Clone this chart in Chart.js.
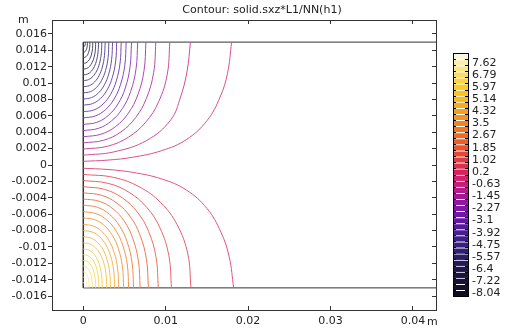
<!DOCTYPE html>
<html>
<head>
<meta charset="utf-8">
<script src="https://cdn.jsdelivr.net/npm/chart.js@4.4.0/dist/chart.umd.min.js"></script>
<style>
body { margin: 0; background: #fff; font-family: "DejaVu Sans", sans-serif; }
#wrap { position: relative; width: 505px; height: 334px; overflow: hidden; background: #fff; }
canvas { position: absolute; }
.txt { position: absolute; font-size: 11px; color: #222; white-space: nowrap; line-height: 13px; }
</style>
</head>
<body>
<div id="wrap">
  <canvas id="chart" width="505" height="334" style="left:0;top:0"></canvas>
  <canvas id="legend" width="65" height="270" style="left:440px;top:40px"></canvas>
  <div class="txt" style="left:262px;top:3px;transform:translateX(-50%)">Contour: solid.sxz*L1/NN(h1)</div>
  <div class="txt" style="left:18px;top:13px">m</div>
  <div class="txt" style="left:427px;top:315px">m</div>
</div>
<script>
// contour levels, top of colour bar first
const levels = [8.04, 7.62, 7.21, 6.79, 6.38, 5.97, 5.56, 5.14, 4.73, 4.32,
    3.91, 3.5, 3.09, 2.67, 2.26, 1.85, 1.44, 1.02, 0.61, 0.2,
    -0.21, -0.63, -1.04, -1.45, -1.86, -2.27, -2.68, -3.1, -3.51, -3.92,
    -4.33, -4.75, -5.16, -5.57, -5.98, -6.4, -6.81, -7.22, -7.63, -8.04];

const xTicks = [0, 0.01, 0.02, 0.03, 0.04];
const yTicks = [-0.016, -0.014, -0.012, -0.01, -0.008, -0.006, -0.004, -0.002, 0,
    0.002, 0.004, 0.006, 0.008, 0.01, 0.012, 0.014, 0.016];

// domain edges (mm): top edge, left edge, bottom edge
const boundary = [[60, 15], [0, 15], [0, -15], [60, -15]];

// negative contours, upper half (mm), outermost first
const topLevels = [-0.21, -0.63, -1.04, -1.45, -1.86, -2.27, -2.68, -3.1, -3.51, -3.92,
    -4.33, -4.75, -5.16, -5.57, -5.98, -6.4, -6.81, -7.22, -7.63, -8.04];
const topLines = [
    [[0, 0.45], [3, 0.6], [6, 0.95], [9.5, 1.75], [12.5, 3.1], [15, 5.4], [16.6, 8.3], [17.5, 11.2], [18, 15]],
    [[0, 1.2], [3.7, 1.6], [7.7, 3.0], [10.6, 5.5], [11.8, 8.3], [12.6, 11.5], [13, 15]],
    [[0, 1.95], [2.94, 2.29], [5.46, 3.39], [7.56, 5.21], [9.14, 7.72], [10.19, 11.09], [10.5, 15]],
    [[0, 2.7], [2.46, 3.02], [4.58, 4.05], [6.34, 5.78], [7.66, 8.14], [8.54, 11.31], [8.8, 15]],
    [[0, 3.45], [2.13, 3.75], [3.95, 4.72], [5.47, 6.34], [6.61, 8.56], [7.37, 11.54], [7.6, 15]],
    [[0, 4.2], [1.85, 4.48], [3.43, 5.39], [4.75, 6.9], [5.74, 8.97], [6.4, 11.76], [6.6, 15]],
    [[0, 4.95], [1.64, 5.21], [3.04, 6.06], [4.21, 7.46], [5.09, 9.39], [5.67, 11.99], [5.85, 15]],
    [[0, 5.75], [1.46, 5.99], [2.7, 6.77], [3.74, 8.06], [4.52, 9.84], [5.04, 12.23], [5.2, 15]],
    [[0, 6.5], [1.29, 6.72], [2.39, 7.44], [3.31, 8.63], [4.0, 10.26], [4.46, 12.45], [4.6, 15]],
    [[0, 7.3], [1.13, 7.5], [2.11, 8.15], [2.92, 9.23], [3.52, 10.7], [3.93, 12.69], [4.05, 15]],
    [[0, 8.05], [0.99, 8.23], [1.85, 8.81], [2.56, 9.79], [3.09, 11.12], [3.44, 12.92], [3.55, 15]],
    [[0, 8.8], [0.87, 8.96], [1.61, 9.48], [2.23, 10.35], [2.7, 11.54], [3.01, 13.14], [3.1, 15]],
    [[0, 9.55], [0.74, 9.69], [1.38, 10.15], [1.91, 10.91], [2.31, 11.96], [2.57, 13.37], [2.65, 15]],
    [[0, 10.3], [0.63, 10.42], [1.17, 10.82], [1.62, 11.48], [1.96, 12.38], [2.18, 13.59], [2.25, 15]],
    [[0, 11.0], [0.52, 11.1], [0.96, 11.44], [1.33, 12.0], [1.61, 12.77], [1.79, 13.8], [1.85, 15]],
    [[0, 11.7], [0.42, 11.79], [0.78, 12.06], [1.08, 12.53], [1.31, 13.16], [1.46, 14.01], [1.5, 15]],
    [[0, 12.4], [0.32, 12.47], [0.6, 12.69], [0.83, 13.05], [1.0, 13.55], [1.12, 14.22], [1.15, 15]],
    [[0, 13.1], [0.22, 13.15], [0.42, 13.31], [0.58, 13.58], [0.7, 13.94], [0.78, 14.43], [0.8, 15]],
    [[0, 13.75], [0.14, 13.78], [0.26, 13.89], [0.36, 14.06], [0.44, 14.3], [0.49, 14.63], [0.5, 15]],
    [[0, 14.4], [0.07, 14.42], [0.13, 14.47], [0.18, 14.55], [0.22, 14.67], [0.24, 14.82], [0.25, 15]]
];

// positive contours, lower half (mm), outermost first
const bottomLevels = [0.2, 0.61, 1.02, 1.44, 1.85, 2.26, 2.67, 3.09, 3.5, 3.91,
    4.32, 4.73, 5.14, 5.56, 5.97, 6.38, 6.79, 7.21, 7.62, 8.04];
const bottomLines = [
    [[0, -0.4], [3, -0.55], [6, -0.9], [9.5, -1.7], [12.5, -3.05], [15, -5.3], [16.7, -8.2], [17.7, -11.2], [18.25, -15]],
    [[0, -1.15], [3.66, -1.51], [6.8, -2.67], [9.41, -4.61], [11.37, -7.27], [12.68, -10.85], [13.07, -15]],
    [[0, -1.9], [3.0, -2.24], [5.56, -3.34], [7.7, -5.18], [9.31, -7.69], [10.38, -11.07], [10.7, -15]],
    [[0, -2.65], [2.55, -2.97], [4.73, -4.01], [6.55, -5.74], [7.92, -8.11], [8.83, -11.3], [9.1, -15]],
    [[0, -3.4], [2.21, -3.7], [4.11, -4.68], [5.69, -6.3], [6.87, -8.53], [7.66, -11.52], [7.9, -15]],
    [[0, -4.15], [1.93, -4.43], [3.59, -5.34], [4.97, -6.86], [6.0, -8.95], [6.69, -11.75], [6.9, -15]],
    [[0, -4.9], [1.71, -5.16], [3.17, -6.01], [4.39, -7.43], [5.31, -9.36], [5.92, -11.97], [6.1, -15]],
    [[0, -5.7], [1.54, -5.94], [2.86, -6.72], [3.96, -8.03], [4.79, -9.81], [5.34, -12.21], [5.5, -15]],
    [[0, -6.45], [1.37, -6.67], [2.55, -7.39], [3.53, -8.59], [4.26, -10.23], [4.75, -12.44], [4.9, -15]],
    [[0, -7.25], [1.2, -7.45], [2.24, -8.1], [3.1, -9.19], [3.74, -10.68], [4.17, -12.68], [4.3, -15]],
    [[0, -8.0], [1.06, -8.18], [1.98, -8.77], [2.74, -9.75], [3.31, -11.09], [3.69, -12.9], [3.8, -15]],
    [[0, -8.75], [0.92, -8.91], [1.72, -9.44], [2.38, -10.31], [2.87, -11.51], [3.2, -13.13], [3.3, -15]],
    [[0, -9.5], [0.8, -9.64], [1.48, -10.11], [2.05, -10.88], [2.48, -11.93], [2.76, -13.35], [2.85, -15]],
    [[0, -10.25], [0.64, -10.37], [1.2, -10.77], [1.66, -11.44], [2.0, -12.35], [2.23, -13.58], [2.3, -15]],
    [[0, -10.95], [0.53, -11.06], [0.99, -11.4], [1.37, -11.96], [1.65, -12.74], [1.84, -13.79], [1.9, -15]],
    [[0, -11.65], [0.42, -11.74], [0.78, -12.02], [1.08, -12.49], [1.31, -13.13], [1.46, -14.0], [1.5, -15]],
    [[0, -12.35], [0.31, -12.42], [0.57, -12.64], [0.79, -13.01], [0.96, -13.52], [1.07, -14.21], [1.1, -15]],
    [[0, -13.05], [0.2, -13.1], [0.36, -13.26], [0.5, -13.54], [0.61, -13.91], [0.68, -14.42], [0.7, -15]],
    [[0, -13.7], [0.13, -13.73], [0.23, -13.84], [0.32, -14.03], [0.39, -14.27], [0.44, -14.61], [0.45, -15]],
    [[0, -14.35], [0.06, -14.37], [0.1, -14.42], [0.14, -14.51], [0.17, -14.64], [0.19, -14.81], [0.2, -15]]
];

// colour map stops (0 = lowest level, 1 = highest)
const cmap = [
    [0, [18, 12, 38]], [0.1, [30, 22, 72]], [0.15, [42, 28, 100]], [0.205, [56, 32, 126]],
    [0.256, [72, 28, 146]], [0.307, [96, 24, 164]], [0.359, [128, 24, 166]], [0.41, [160, 24, 150]],
    [0.461, [196, 30, 122]], [0.512, [216, 34, 94]], [0.563, [224, 58, 62]], [0.615, [232, 82, 44]],
    [0.666, [238, 106, 34]], [0.718, [242, 132, 32]], [0.769, [245, 160, 28]], [0.82, [248, 184, 32]],
    [0.871, [249, 204, 44]], [0.922, [249, 220, 96]], [0.974, [251, 238, 176]], [1, [253, 248, 220]]
];
const vMin = levels[levels.length - 1], vMax = levels[0];

function levelColor(v, light) {
    const t = (v - vMin) / (vMax - vMin);
    let c = cmap[cmap.length - 1][1];
    for (let i = 1; i < cmap.length; i++) {
        if (t <= cmap[i][0]) {
            const a = cmap[i - 1], b = cmap[i];
            const f = (t - a[0]) / (b[0] - a[0]);
            c = a[1].map((ch, k) => ch + f * (b[1][k] - ch));
            break;
        }
    }
    // plot lines look a bit washed out next to the legend
    if (light) c = c.map(ch => ch + light * (255 - ch));
    return 'rgb(' + c.map(Math.round).join(',') + ')';
}

const toM = p => ({x: p[0] / 1000, y: p[1] / 1000});

const datasets = [];
topLines.forEach((line, i) => datasets.push({
    data: line.map(toM), borderColor: levelColor(topLevels[i], 0.22)
}));
bottomLines.forEach((line, i) => datasets.push({
    data: line.map(toM), borderColor: levelColor(bottomLevels[i], 0.22)
}));
datasets.push({data: boundary.map(toM), borderColor: '#333', tension: 0});

const tickFont = {family: 'DejaVu Sans', size: 11};
const frame = '#333';

const chart = new Chart(document.getElementById('chart'), {
    type: 'scatter',
    data: {datasets: datasets},
    options: {
        responsive: false,
        animation: false,
        devicePixelRatio: 1,
        layout: {padding: {top: 20, left: 0, right: 69, bottom: 0}},
        showLine: true,
        elements: {
            point: {radius: 0},
            line: {borderWidth: 1, tension: 0.4}
        },
        plugins: {
            legend: {display: false},
            tooltip: {enabled: false}
        },
        scales: {
            x: {
                type: 'linear', position: 'bottom', min: -0.0038, max: 0.0428,
                afterBuildTicks: s => { s.ticks = xTicks.map(v => ({value: v})); },
                afterFit: s => { s.height = 24; },
                ticks: {callback: v => String(v), color: '#222', font: tickFont, padding: 9, maxRotation: 0},
                grid: {drawOnChartArea: false, tickLength: -4, color: frame},
                border: {color: frame}
            },
            x2: {
                type: 'linear', position: 'top', min: -0.0038, max: 0.0428,
                afterBuildTicks: s => { s.ticks = xTicks.map(v => ({value: v})); },
                afterFit: s => { s.height = 0; },
                ticks: {display: false},
                grid: {drawOnChartArea: false, tickLength: -4, color: frame},
                border: {color: frame}
            },
            y: {
                type: 'linear', position: 'left', min: -0.0177, max: 0.0177,
                afterBuildTicks: s => { s.ticks = yTicks.map(v => ({value: v})); },
                afterFit: s => { s.width = 52; },
                ticks: {callback: v => String(v), color: '#222', font: tickFont, padding: 1},
                grid: {drawOnChartArea: false, tickLength: 4, color: frame},
                border: {color: frame}
            },
            y2: {
                type: 'linear', position: 'right', min: -0.0177, max: 0.0177,
                afterBuildTicks: s => { s.ticks = yTicks.map(v => ({value: v})); },
                afterFit: s => { s.width = 0; },
                ticks: {display: false},
                grid: {drawOnChartArea: false, tickLength: -4, color: frame},
                border: {color: frame}
            }
        }
    }
});

// colour legend
const legend = new Chart(document.getElementById('legend'), {
    type: 'bar',
    data: {
        labels: levels.map(String),
        datasets: [{
            data: levels.map(() => 1),
            backgroundColor: levels.map(v => levelColor(v)),
            borderColor: '#fff',
            borderWidth: {top: 1, right: 0, bottom: 0, left: 0},
            borderSkipped: false,
            barPercentage: 1,
            categoryPercentage: 1
        }]
    },
    options: {
        indexAxis: 'y',
        responsive: false,
        animation: false,
        devicePixelRatio: 1,
        layout: {padding: {top: 6, left: 13, right: 0, bottom: 9}},
        plugins: {legend: {display: false}, tooltip: {enabled: false}},
        scales: {
            x: {display: false, min: 0, max: 1},
            y: {
                position: 'right', offset: true,
                afterFit: s => { s.width = 37; },
                ticks: {autoSkip: false, padding: 7, color: '#222', font: tickFont,
                    callback: (v, i) => (i % 2 === 1 ? String(levels[i]) : '')},
                grid: {drawOnChartArea: false, offset: true, tickLength: -3, color: '#000', z: 1},
                border: {color: '#000', z: 1}
            },
            yl: {
                type: 'category', axis: 'y', position: 'left', offset: true,
                afterFit: s => { s.width = 0; },
                ticks: {display: false},
                grid: {drawOnChartArea: false, offset: true, tickLength: -3, color: '#000', z: 1},
                border: {color: '#000', z: 1}
            },
            xt: {
                type: 'linear', axis: 'x', position: 'top', min: 0, max: 1,
                afterFit: s => { s.height = 0; },
                ticks: {display: false},
                grid: {drawOnChartArea: false, drawTicks: false},
                border: {color: '#000', z: 1}
            },
            xb: {
                type: 'linear', axis: 'x', position: 'bottom', min: 0, max: 1,
                afterFit: s => { s.height = 0; },
                ticks: {display: false},
                grid: {drawOnChartArea: false, drawTicks: false},
                border: {color: '#000', z: 1}
            }
        }
    }
});
</script>
</body>
</html>
